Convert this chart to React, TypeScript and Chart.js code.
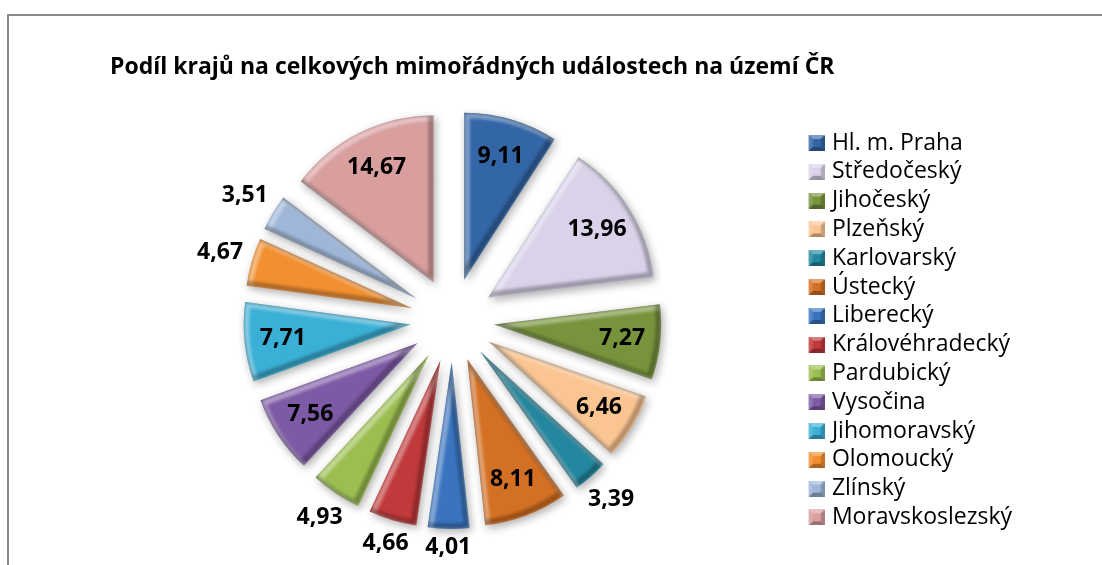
import React, { useEffect, useRef } from 'react';
import { Chart, PieController, ArcElement, Legend, Title } from 'chart.js';

const TITLE = 'Podíl krajů na celkových mimořádných událostech na území ČR';
const REGIONS = [
  'Hl. m. Praha', 'Středočeský', 'Jihočeský', 'Plzeňský', 'Karlovarský', 'Ústecký', 'Liberecký',
  'Královéhradecký', 'Pardubický', 'Vysočina', 'Jihomoravský', 'Olomoucký', 'Zlínský', 'Moravskoslezský',
];
const SHARES = [9.11, 13.96, 7.27, 6.46, 3.39, 8.11, 4.01, 4.66, 4.93, 7.56, 7.71, 4.67, 3.51, 14.67];
const COLORS = [
  '#3366A6', '#D9D2E9', '#77933C', '#FBC592', '#23879F', '#D47023', '#3A74BF',
  '#C0393B', '#9BBE50', '#7D5AA5', '#3BB0D6', '#F28F30', '#9EB6D8', '#D99E9E',
];

const EXPLODE = 42;
const PIE_RADIUS = 167;
const LABEL_SIZE = 23;
const FONT = '"Open Sans"';

class BevelArc extends ArcElement {
  static id = 'bevelArc';
  draw(ctx: CanvasRenderingContext2D) {
    const self: any = this;
    const x = self.x, y = self.y, s = self.startAngle, e = self.endAngle, r = self.outerRadius;
    const mid = (s + e) / 2;
    ctx.save();
    ctx.translate(Math.cos(mid) * EXPLODE, Math.sin(mid) * EXPLODE);
    ctx.save();
    ctx.shadowColor = 'rgba(0,0,0,0.32)';
    ctx.shadowBlur = 9;
    ctx.shadowOffsetX = 2;
    ctx.shadowOffsetY = 3;
    super.draw(ctx);
    ctx.restore();
    const path = (dx: number, dy: number) => {
      ctx.beginPath();
      ctx.moveTo(x + dx, y + dy);
      ctx.arc(x + dx, y + dy, r, s, e);
      ctx.closePath();
    };
    ctx.save();
    path(0, 0);
    ctx.clip();
    ctx.lineJoin = 'round';
    (ctx as any).filter = 'blur(1.5px)';
    ctx.lineWidth = 6;
    path(2.5, 2.5);
    ctx.strokeStyle = 'rgba(255,255,255,0.38)';
    ctx.stroke();
    path(-2.5, -2.5);
    ctx.strokeStyle = 'rgba(0,0,0,0.28)';
    ctx.stroke();
    ctx.restore();
    ctx.restore();
  }
}

class BevelPieController extends PieController {
  static id = 'bevelPie';
  static defaults = { dataElementType: 'bevelArc' };
}

Chart.register(PieController, ArcElement, Legend, Title, BevelArc as any, BevelPieController as any);

function shade(hex: string, amt: number) {
  const n = parseInt(hex.slice(1), 16);
  let r = (n >> 16) & 255, g = (n >> 8) & 255, b = n & 255;
  const t = amt < 0 ? 0 : 255;
  const p = Math.abs(amt);
  r = Math.round(r + (t - r) * p);
  g = Math.round(g + (t - g) * p);
  b = Math.round(b + (t - b) * p);
  return `rgb(${r},${g},${b})`;
}

function makeIcon(color: string) {
  const c = document.createElement('canvas');
  c.width = 28;
  c.height = 16;
  const g = c.getContext('2d')!;
  const x0 = 12.35, s = 16, b = 4;
  g.fillStyle = color;
  g.fillRect(x0, 0, s, s);
  const poly = (pts: number[][], fill: string) => {
    g.beginPath();
    g.moveTo(pts[0][0], pts[0][1]);
    for (let i = 1; i < pts.length; i++) g.lineTo(pts[i][0], pts[i][1]);
    g.closePath();
    g.fillStyle = fill;
    g.fill();
  };
  poly([[x0, 0], [x0 + s, 0], [x0 + s - b, b], [x0 + b, b]], shade(color, 0.35));
  poly([[x0, 0], [x0 + b, b], [x0 + b, s - b], [x0, s]], shade(color, 0.15));
  poly([[x0 + s, 0], [x0 + s, s], [x0 + s - b, s - b], [x0 + s - b, b]], shade(color, -0.2));
  poly([[x0, s], [x0 + b, s - b], [x0 + s - b, s - b], [x0 + s, s]], shade(color, -0.3));
  return c;
}

const fmt = (v: number) => v.toFixed(2).replace('.', ',');

const labelPlugin = {
  id: 'sliceLabels',
  afterDatasetsDraw(chart: any) {
    const meta = chart.getDatasetMeta(0);
    const ctx: CanvasRenderingContext2D = chart.ctx;
    const data: number[] = chart.data.datasets[0].data;
    ctx.save();
    ctx.font = `bold ${LABEL_SIZE}px ${FONT}`;
    ctx.fillStyle = '#000';
    ctx.textAlign = 'center';
    ctx.textBaseline = 'middle';
    meta.data.forEach((arc: any, i: number) => {
      const mid = (arc.startAngle + arc.endAngle) / 2;
      const cx = Math.cos(mid), sy = Math.sin(mid);
      const ax = arc.x + cx * EXPLODE, ay = arc.y + sy * EXPLODE;
      const text = fmt(data[i]);
      const w = ctx.measureText(text).width;
      const h = 20;
      const d = data[i] >= 5
        ? arc.outerRadius * 0.77
        : arc.outerRadius + 8 + Math.abs(cx) * w / 2 + Math.abs(sy) * h / 2;
      ctx.fillText(text, ax + cx * d, ay + sy * d);
    });
    ctx.restore();
  },
};

export default function App() {
  const ref = useRef<HTMLCanvasElement>(null);
  useEffect(() => {
    const icons = COLORS.map(makeIcon);
    const chart = new Chart(ref.current!, {
      type: 'bevelPie' as any,
      data: {
        labels: REGIONS,
        datasets: [{
          data: SHARES,
          backgroundColor: COLORS,
          borderWidth: 0,
          radius: PIE_RADIUS,
        } as any],
      },
      options: {
        responsive: false,
        animation: false,
        events: [],
        layout: { padding: { left: 110, right: 80, top: 0, bottom: 10 } },
        plugins: {
          tooltip: { enabled: false },
          title: {
            display: true,
            text: TITLE,
            align: 'start',
            color: '#000',
            font: { family: FONT, size: 23, weight: 'bold' },
            padding: { top: 53.2, bottom: 4.2 },
          },
          legend: {
            position: 'right',
            align: 'start',
            fullSize: true,
            title: { display: true, text: '', padding: { top: 113.7, bottom: 0 }, font: { size: 10 } },
            labels: {
              usePointStyle: true,
              pointStyleWidth: 19.7,
              boxHeight: 16,
              padding: 5.8,
              color: '#000',
              font: { family: FONT, size: 23 },
              generateLabels: () => REGIONS.map((text, i) => ({
                text,
                fillStyle: COLORS[i],
                strokeStyle: COLORS[i],
                lineWidth: 0,
                pointStyle: icons[i],
                hidden: false,
                index: i,
                fontColor: '#000',
              })),
            },
          },
        },
      } as any,
      plugins: [labelPlugin],
    });
    return () => chart.destroy();
  }, []);
  return (
    <div style={{ position: 'fixed', left: 0, top: 0, width: 1102, height: 565, background: '#fff', overflow: 'hidden' }}>
      <div style={{ position: 'absolute', left: 7, top: 14, width: 1200, height: 700, border: '2px solid #8a8a8a', boxSizing: 'border-box' }} />
      <canvas ref={ref} width={1102} height={565} style={{ position: 'absolute', left: 0, top: 0 }} />
    </div>
  );
}
